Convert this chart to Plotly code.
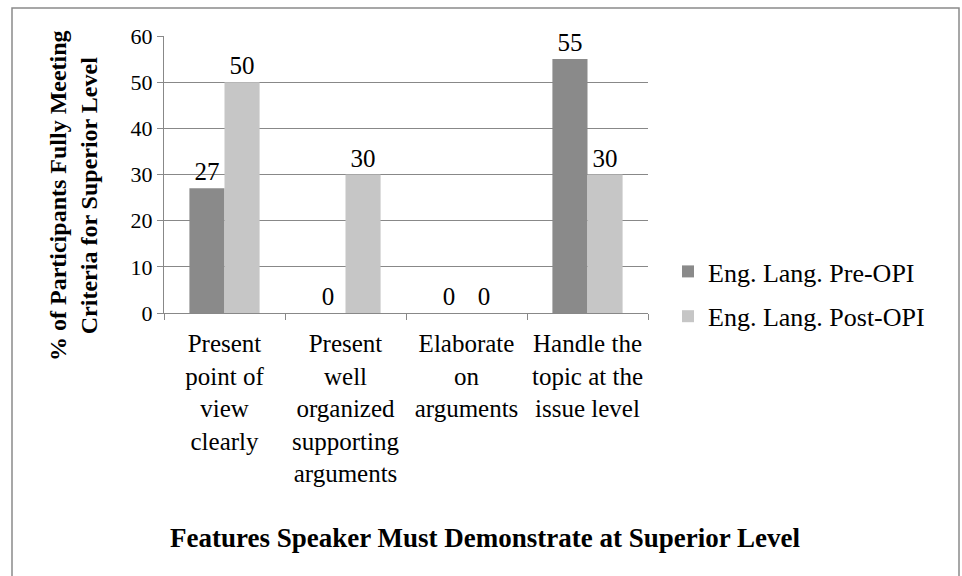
import plotly.graph_objects as go

categories = [
    "Present<br>point of<br>view<br>clearly",
    "Present<br>well<br>organized<br>supporting<br>arguments",
    "Elaborate<br>on<br>arguments",
    "Handle the<br>topic at the<br>issue level",
]
pre_opi = [27, 0, 0, 55]
post_opi = [50, 30, 0, 30]
series_names = ["Eng. Lang. Pre-OPI", "Eng. Lang. Post-OPI"]
y_ticks = [0, 10, 20, 30, 40, 50, 60]

FONT = "Liberation Serif, Times New Roman, DejaVu Serif, serif"
W, H = 962, 576
L, R, T, B = 164, 314, 36, 263
pw, ph = W - L - R, H - T - B

def px_x(x):
    return (x - L) / pw

def px_y(y):
    return (H - B - y) / ph

fig = go.Figure()
fig.add_trace(go.Bar(
    x=categories, y=pre_opi, name=series_names[0],
    marker=dict(color="#8a8a8a", line=dict(width=0)),
    text=[str(v) for v in pre_opi], textposition="outside",
    textfont=dict(family=FONT, size=25, color="black"),
    cliponaxis=False, legendgroup="a",
))
fig.add_trace(go.Bar(
    x=categories, y=post_opi, name=series_names[1],
    marker=dict(color="#c6c6c6", line=dict(width=0)),
    text=[str(v) for v in post_opi], textposition="outside",
    textfont=dict(family=FONT, size=25, color="black"),
    cliponaxis=False, legendgroup="b",
))

fig.update_layout(
    width=W, height=H,
    margin=dict(l=L, r=R, t=T, b=B, pad=0),
    paper_bgcolor="white", plot_bgcolor="white",
    barmode="group", bargap=0.42, bargroupgap=0,
    font=dict(family=FONT, color="black"),
    showlegend=True,
    legend=dict(
        x=px_x(668), y=px_y(294), xanchor="left", yanchor="middle",
        font=dict(family=FONT, size=26, color="black"),
        bgcolor="rgba(0,0,0,0)", traceorder="grouped", tracegroupgap=8,
        itemwidth=30,
    ),
    xaxis=dict(
        showline=True, linecolor="#888888", linewidth=1,
        ticks="outside", tickson="boundaries", ticklen=6, tickcolor="#888888",
        tickfont=dict(family=FONT, size=25, color="black"),
        ticklabelstandoff=8,
        showgrid=False,
    ),
    yaxis=dict(
        range=[0, 60], tickvals=y_ticks, ticktext=[str(v) for v in y_ticks],
        showline=True, linecolor="#888888", linewidth=1,
        ticks="outside", ticklen=6, tickcolor="#888888",
        showgrid=True, gridcolor="#888888", gridwidth=1,
        zeroline=False,
        tickfont=dict(family=FONT, size=22, color="black"),
    ),
    shapes=[dict(
        type="rect", xref="paper", yref="paper",
        x0=px_x(12), x1=px_x(959), y0=px_y(600), y1=px_y(8),
        line=dict(color="#8a8a8a", width=1.5), fillcolor="rgba(0,0,0,0)",
        layer="below",
    )],
    annotations=[
        dict(
            text="% of Participants Fully Meeting<br>Criteria for Superior Level",
            xref="paper", yref="paper", x=px_x(73), y=px_y(196),
            xanchor="center", yanchor="middle", textangle=-90, showarrow=False,
            font=dict(family=FONT, size=24, color="black", weight="bold"),
        ),
        dict(
            text="Features Speaker Must Demonstrate at Superior Level",
            xref="paper", yref="paper", x=px_x(485), y=px_y(538),
            xanchor="center", yanchor="middle", showarrow=False,
            font=dict(family=FONT, size=27, color="black", weight="bold"),
        ),
    ],
)

fig.write_html(
    "out.html",
    config={"displayModeBar": False},
    post_script="document.body.style.margin='0px';",
)
